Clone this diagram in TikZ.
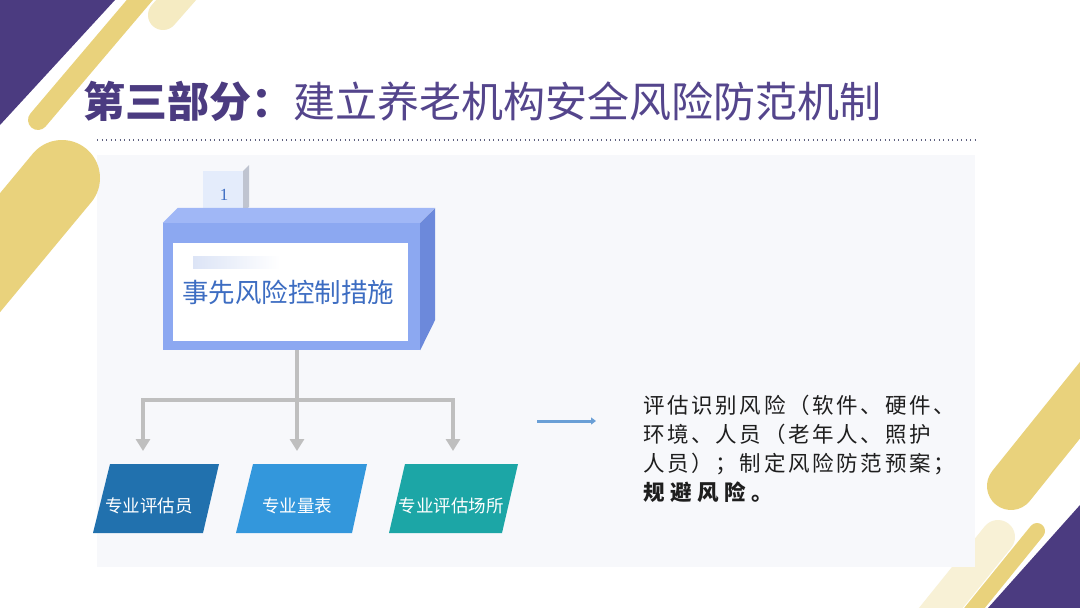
\documentclass[tikz,border=0pt]{standalone}
\usepackage{fontspec}
\setmainfont{Noto Sans CJK SC}
\newfontfamily\cjk{Noto Sans CJK SC}
\newfontfamily\cjksp[LetterSpace=12.5]{Noto Sans CJK SC}
\newfontfamily\numfont{Liberation Serif}
\usetikzlibrary{arrows.meta}
\definecolor{deeppurple}{HTML}{4B3B80}
\definecolor{titlepurple}{HTML}{54458C}
\definecolor{goldyellow}{HTML}{E9D27C}
\definecolor{paleyellow}{HTML}{F5EBC2}
\definecolor{paleryellow}{HTML}{F8F1D6}
\definecolor{panelgray}{HTML}{F7F8FB}
\definecolor{dotgray}{HTML}{5E6180}
\definecolor{boxtop}{HTML}{A0B7F6}
\definecolor{boxfront}{HTML}{8CA8F1}
\definecolor{boxright}{HTML}{6C89DB}
\definecolor{tabfront}{HTML}{E4ECFB}
\definecolor{tabside}{HTML}{BFC4D0}
\definecolor{boxtext}{HTML}{3D6DC2}
\definecolor{barblue}{HTML}{DCE4F6}
\definecolor{conngray}{HTML}{BFBFBF}
\definecolor{parA}{HTML}{2171AE}
\definecolor{parB}{HTML}{3397DC}
\definecolor{parC}{HTML}{1CA6A6}
\definecolor{arrowblue}{HTML}{6A9FD6}
\definecolor{bodytext}{HTML}{1E1E1E}
\tikzset{
  stripe/.style={line cap=round, line width=#1},
  conn/.style={draw=conngray, line width=4pt},
  connarrow/.style={conn, -{Triangle[width=14pt,length=12pt]}},
  partext/.style={text=white, font=\cjk\fontsize{17.5}{20}\selectfont, inner sep=0pt},
}
\begin{document}
\begin{tikzpicture}[x=1pt,y=-1pt]
\useasboundingbox (0,0) rectangle (1080,608);
\fill[white] (0,0) rectangle (1080,608);
% decorations
\begin{scope}
\clip (0,0) rectangle (1080,608);
\fill[deeppurple] (0,0) -- (115,0) -- (0,125) -- cycle;
\draw[paleyellow, stripe=30pt] (163,15) -- (220,-50);
\draw[goldyellow, stripe=20pt] (38,120) -- (150,-12);
\draw[paleryellow, stripe=34pt] (998,537) -- (915,640);
\draw[goldyellow, stripe=48pt] (1011,486) -- (1130,338);
\draw[goldyellow, stripe=16pt] (1037,531) -- (955,632);
\fill[deeppurple] (1080,505) -- (1080,608) -- (988,608) -- cycle;
\end{scope}
% panel
\fill[panelgray] (97,155) rectangle (975,567);
\begin{scope}
\clip (0,0) rectangle (1080,608);
\draw[goldyellow, stripe=76pt] (62,178) -- (-70,337);
\end{scope}
% title
\node[anchor=base west, inner sep=0pt, font=\cjk\fontsize{42}{46}\selectfont] (title) at (83,117)
  {\textcolor{deeppurple}{\bfseries 第三部分：}\textcolor{titlepurple}{建立养老机构安全风险防范机制}};
\draw[dotgray, line width=1.6pt, dash pattern=on 1.4pt off 3.1pt] (97,140) -- (975,140);
% tab
\fill[tabside] (243,171) -- (249,165) -- (249,207) -- (243,212) -- cycle;
\node[fill=tabfront, minimum width=40pt, minimum height=41pt, inner sep=0pt, anchor=north west] (tab) at (203,171) {};
\node[text=boxtext, font=\numfont\fontsize{17}{19}\selectfont, inner sep=0pt] (tabnum) at (224,195) {1};
% main 3D box
\node[fill=boxfront, minimum width=257pt, minimum height=127pt, inner sep=0pt] (box) at (291.5,286.5) {};
\fill[boxtop] (box.north west) -- ++(15,-15) -- ++(257,0) -- (box.north east) -- cycle;
\fill[boxright] (box.north east) -- ++(15,-15) -- ++(0,112) -- (box.south east) -- cycle;
\node[fill=white, minimum width=235pt, minimum height=98pt, inner sep=0pt, anchor=north west] (inner) at (173,243) {};
\shade[left color=barblue, right color=white] (193,256) rectangle (280,268);
\node[text=boxtext, font=\cjk\fontsize{26.5}{30}\selectfont, inner sep=0pt] (boxlabel) at (288,292) {事先风险控制措施};
% connectors
\coordinate (hub) at (297,400);
\coordinate (t1) at (143,451);
\coordinate (t2) at (297,451);
\coordinate (t3) at (453,451);
\draw[conn] (box.south -| hub) -- (hub);
\draw[conn, line cap=rect] (t1 |- hub) -- (t3 |- hub);
\draw[connarrow] (t1 |- hub) -- (t1);
\draw[connarrow] (hub) -- (t2);
\draw[connarrow] (t3 |- hub) -- (t3);
% parallelograms
\fill[parA] (110,464) -- (219,464) -- (203,533) -- (93,533) -- cycle;
\fill[parB] (253,464) -- (367,464) -- (352,533) -- (236,533) -- cycle;
\fill[parC] (405,464) -- (518,464) -- (502,533) -- (389,533) -- cycle;
\node[partext] (p1) at (149,506) {专业评估员};
\node[partext] (p2) at (297,506) {专业量表};
\node[partext] (p3) at (451,506) {专业评估场所};
% blue arrow and text
\coordinate (ba) at (537,421);
\node[anchor=base west, inner sep=0pt, align=left, text=bodytext,
  font=\cjksp\fontsize{21.5}{29}\selectfont] (desc) at (643,500)
  {评估识别风险（软件、硬件、\\环境、人员（老年人、照护\\人员）；制定风险防范预案；\\{\bfseries\addfontfeature{LetterSpace=26}规避风险。}};
\coordinate (bb) at (596,421);
\draw[arrowblue, line width=3pt, -{Triangle[width=7pt,length=5pt]}] (ba) -- (bb);
\end{tikzpicture}
\end{document}
